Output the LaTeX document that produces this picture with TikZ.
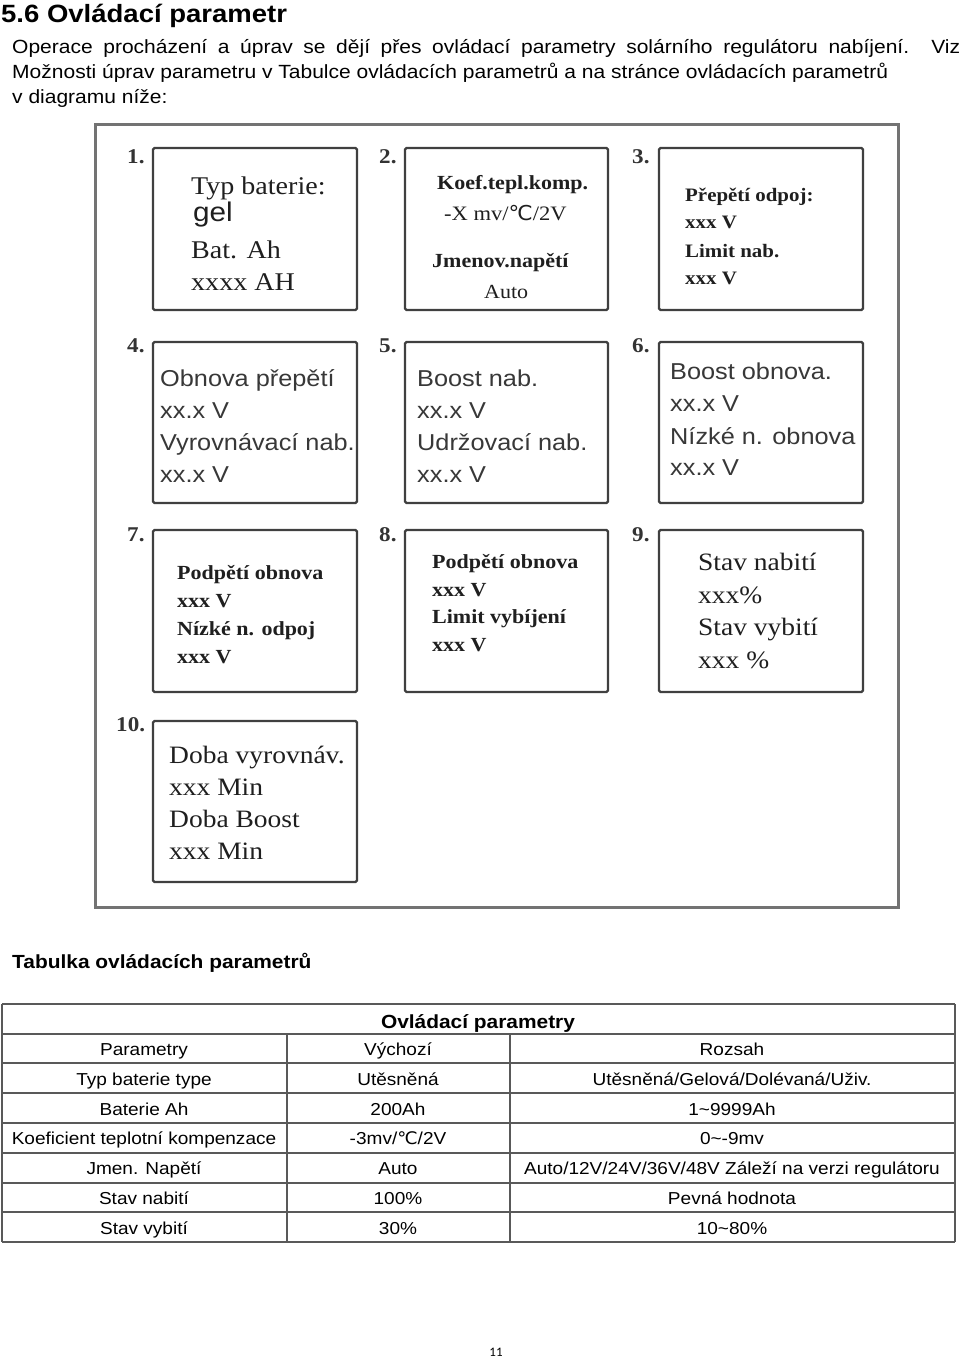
\documentclass[tikz,border=0pt]{standalone}
\usepackage{fontspec}
\setmainfont[FakeStretch=1.1]{Liberation Sans}
\newfontfamily\seriffam[FakeStretch=1.1]{Liberation Serif}
\newfontfamily\symfam[FakeStretch=1.05]{DejaVu Sans}
\newfontfamily\pagefam{Carlito}
\newcommand\mydegc{{\symfam ℃}}
\begin{document}
\begin{tikzpicture}[x=1pt,y=-1pt,
  frame/.style={draw=black!55, line width=3pt},
  panel/.style={draw=black!75, line width=2.2pt, rounded corners=1.5pt},
  num/.style={anchor=base west, inner sep=0pt, font=\seriffam\bfseries\fontsize{21}{21}\selectfont, text=black!80},
  ln/.style={anchor=base west, inner sep=0pt, text=black!88},
  sA/.style={ln, font=\seriffam\fontsize{25.5}{25}\selectfont},
  sB/.style={ln, font=\seriffam\bfseries\fontsize{20}{20}\selectfont},
  sC/.style={ln, font=\seriffam\bfseries\fontsize{19}{19}\selectfont},
  sD/.style={ln, font=\fontsize{23}{23}\selectfont, text=black!78},
  sE/.style={ln, font=\seriffam\fontsize{25}{25}\selectfont},
  body/.style={anchor=base west, inner sep=0pt, font=\fontsize{19.1}{19.1}\selectfont},
  cell/.style={anchor=base, inner sep=0pt, font=\fontsize{17.3}{17.3}\selectfont},
  tline/.style={draw=black!65, line width=1.5pt}
]
\useasboundingbox (0,0) rectangle (960,1360);
\fill[white] (0,0) rectangle (960,1360);

% heading and body text
\node[anchor=base west, inner sep=0pt, font=\bfseries\fontsize{25}{25}\selectfont] (title) at (1,22) {5.6 Ovládací parametr};
\node[body] (b1) at (12,53) {\makebox[948pt][s]{Operace procházení a úprav se dějí přes ovládací parametry solárního regulátoru nabíjení. Viz}};
\node[body] (b2) at (12,78) {Možnosti úprav parametru v Tabulce ovládacích parametrů a na stránce ovládacích parametrů};
\node[body] (b3) at (12,103) {v diagramu níže:};

% outer frame
\draw[frame] (95,124) rectangle (898,907);

% panels
\draw[panel] (153,148) rectangle (357,310);
\draw[panel] (405,148) rectangle (608,310);
\draw[panel] (659,148) rectangle (863,310);
\draw[panel] (153,342) rectangle (357,503);
\draw[panel] (405,342) rectangle (608,503);
\draw[panel] (659,342) rectangle (863,503);
\draw[panel] (153,530) rectangle (357,692);
\draw[panel] (405,530) rectangle (608,692);
\draw[panel] (659,530) rectangle (863,692);
\draw[panel] (153,721) rectangle (357,882);

% numbers
\node[num] (n1) at (127,163) {1.};
\node[num] (n2) at (379,163) {2.};
\node[num] (n3) at (632,163) {3.};
\node[num] (n4) at (127,352) {4.};
\node[num] (n5) at (379,352) {5.};
\node[num] (n6) at (632,352) {6.};
\node[num] (n7) at (127,541) {7.};
\node[num] (n8) at (379,541) {8.};
\node[num] (n9) at (632,541) {9.};
\node[num] (n10) at (116,731) {10.};

% panel 1
\node[sA] (t1a) at (191,194) {Typ baterie:};
\node[ln, font=\fontsize{27}{27}\selectfont] (t1b) at (193,221) {gel};
\node[sA] (t1c) at (191,258) {Bat. Ah};
\node[sA] (t1d) at (191,290) {xxxx AH};
% panel 2
\node[sB] (t2a) at (437,189) {Koef.tepl.komp.};
\node[sB, font=\seriffam\fontsize{20.5}{20}\selectfont] (t2b) at (444,220) {-X mv/\mydegc/2V};
\node[sB] (t2c) at (432,267) {Jmenov.napětí};
\node[sB, font=\seriffam\fontsize{20}{20}\selectfont] (t2d) at (484,298) {Auto};
% panel 3
\node[sC] (t3a) at (685,201) {Přepětí odpoj:};
\node[sC] (t3b) at (685,228) {xxx V};
\node[sC] (t3c) at (685,257) {Limit nab.};
\node[sC] (t3d) at (685,284) {xxx V};
% panel 4
\node[sD] (t4a) at (160,386) {Obnova přepětí};
\node[sD] (t4b) at (160,418) {xx.x V};
\node[sD] (t4c) at (160,450) {Vyrovnávací nab.};
\node[sD] (t4d) at (160,482) {xx.x V};
% panel 5
\node[sD] (t5a) at (417,386) {Boost nab.};
\node[sD] (t5b) at (417,418) {xx.x V};
\node[sD] (t5c) at (417,450) {Udržovací nab.};
\node[sD] (t5d) at (417,482) {xx.x V};
% panel 6
\node[sD] (t6a) at (670,379) {Boost obnova.};
\node[sD] (t6b) at (670,411) {xx.x V};
\node[sD] (t6c) at (670,444) {Nízké n. obnova};
\node[sD] (t6d) at (670,475) {xx.x V};
% panel 7
\node[sB] (t7a) at (177,579) {Podpětí obnova};
\node[sB] (t7b) at (177,607) {xxx V};
\node[sB] (t7c) at (177,635) {Nízké n. odpoj};
\node[sB] (t7d) at (177,663) {xxx V};
% panel 8
\node[sB] (t8a) at (432,568) {Podpětí obnova};
\node[sB] (t8b) at (432,596) {xxx V};
\node[sB] (t8c) at (432,623) {Limit vybíjení};
\node[sB] (t8d) at (432,651) {xxx V};
% panel 9
\node[sE] (t9a) at (698,570) {Stav nabití};
\node[sE] (t9b) at (698,603) {xxx\%};
\node[sE] (t9c) at (698,635) {Stav vybití};
\node[sE] (t9d) at (698,668) {xxx \%};
% panel 10
\node[sE] (t10a) at (169,763) {Doba vyrovnáv.};
\node[sE] (t10b) at (169,795) {xxx Min};
\node[sE] (t10c) at (169,827) {Doba Boost};
\node[sE] (t10d) at (169,859) {xxx Min};

% table caption
\node[anchor=base west, inner sep=0pt, font=\bfseries\fontsize{19}{19}\selectfont] (cap) at (12,968) {Tabulka ovládacích parametrů};

% table lines
\foreach \yy in {1004,1034,1063,1093,1123,1153,1183,1212,1242}
  \draw[tline] (2,\yy) -- (955,\yy);
\draw[tline] (2,1004) -- (2,1242);
\draw[tline] (955,1004) -- (955,1242);
\draw[tline] (287,1034) -- (287,1242);
\draw[tline] (510,1034) -- (510,1242);

\node[cell, font=\bfseries\fontsize{19}{18}\selectfont] (th) at (478,1028) {Ovládací parametry};
\foreach \r/\yy/\a/\b/\c in {
  1/1055/Parametry/Výchozí/Rozsah,
  2/1085/Typ baterie type/Utěsněná/Utěsněná\slash Gelová\slash Dolévaná\slash Uživ.,
  3/1115/Baterie Ah/200Ah/1\textasciitilde 9999Ah,
  4/1144/Koeficient teplotní kompenzace/-3mv\slash\mydegc\slash 2V/0\textasciitilde -9mv,
  5/1174/Jmen. Napětí/Auto/Auto\slash 12V\slash 24V\slash 36V\slash 48V Záleží na verzi regulátoru,
  6/1204/Stav nabití/100\%/Pevná hodnota,
  7/1234/Stav vybití/30\%/10\textasciitilde 80\%}
{
  \node[cell] (pa\r) at (144,\yy) {\a};
  \node[cell] (pb\r) at (398,\yy) {\b};
  \node[cell] (pc\r) at (732,\yy) {\c};
}

% page number
\node[anchor=base, inner sep=0pt, font=\pagefam\fontsize{13}{13}\selectfont] (pg) at (496,1356) {11};
\end{tikzpicture}
\end{document}
